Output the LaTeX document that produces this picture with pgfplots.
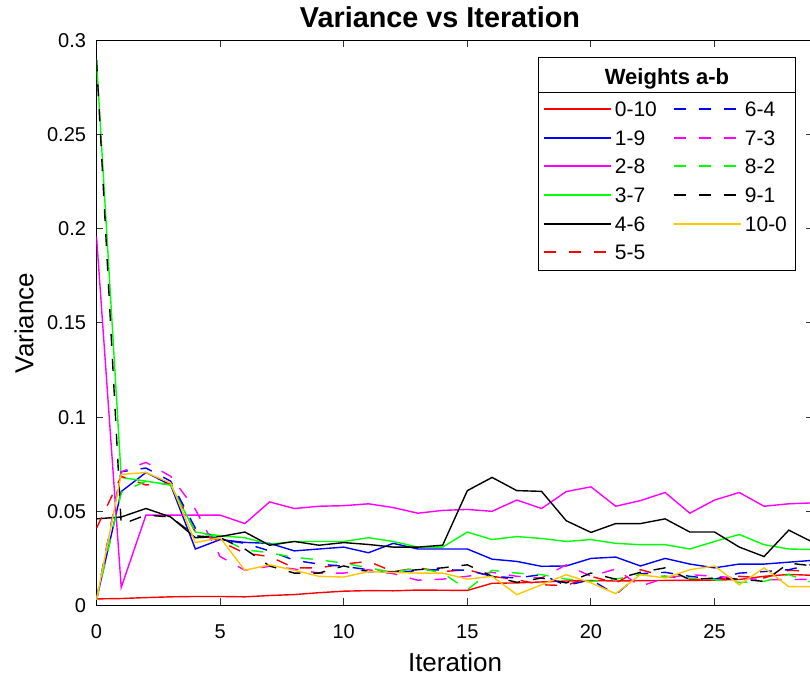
\documentclass[border=0pt]{standalone}
\usepackage{fontspec}
\setmainfont{Liberation Sans}
\usepackage{pgfplots}
\pgfplotsset{compat=1.18}
\usetikzlibrary{calc}

\definecolor{mred}{rgb}{1,0,0}
\definecolor{mblue}{rgb}{0,0,1}
\definecolor{mmag}{rgb}{1,0,1}
\definecolor{mgreen}{rgb}{0,1,0}
\definecolor{myel}{RGB}{255,198,0}

\tikzset{mdash/.style={dash pattern=on 6pt off 6.5pt}}

% one legend row: x of line start, y, line style, label
\newcommand{\legrow}[4]{%
  \draw[#3, line width=1pt] (#1,#2) -- ++(33.5pt,0pt);
  \node[anchor=west, inner sep=0pt, font=\fontsize{10.5}{12}\selectfont] at ({#1+35.5pt},#2) {#4};}

\begin{document}
\begin{tikzpicture}
\begin{axis}[
    scale only axis,
    width=358.5pt, height=282.5pt,
    xmin=0, xmax=29, ymin=0, ymax=0.3,
    xtick={0,5,10,15,20,25},
    ytick={0,0.05,0.1,0.15,0.2,0.25,0.3},
    yticklabels={0,0.05,0.1,0.15,0.2,0.25,0.3},
    scaled y ticks=false,
    /pgf/number format/assume math mode=true,
    tick align=inside,
    major tick length=3.5pt,
    every tick/.style={black!80, line width=0.5pt},
    axis line style={line width=0.5pt},
    ticklabel style={font=\fontsize{10}{12}\selectfont},
    xticklabel style={yshift=-6pt},
    yticklabel style={xshift=-1.7pt},
    xlabel={Iteration}, ylabel={Variance},
    label style={font=\fontsize{13}{15}\selectfont},
    xlabel style={at={(axis description cs:0.5,-0.1168)}, anchor=base},
    ylabel style={at={(axis description cs:-0.0879,0.5)}, anchor=base},
    every axis plot/.append style={line width=0.7pt},
]
% 0-10
\addplot[mred] coordinates {(0,0.0035)(1,0.0037)(2,0.0042)(3,0.0046)(4,0.0048)(5,0.0048)(6,0.0046)(7,0.0053)(8,0.0058)(9,0.0068)(10,0.0076)(11,0.0079)(12,0.0078)(13,0.0082)(14,0.0081)(15,0.0080)(16,0.0118)(17,0.0120)(18,0.0125)(19,0.0130)(20,0.0133)(21,0.0130)(22,0.0132)(23,0.0133)(24,0.0133)(25,0.0135)(26,0.0138)(27,0.0155)(28,0.0165)(29,0.0160)};
% 1-9
\addplot[mblue] coordinates {(0,0.003)(1,0.0605)(2,0.0706)(3,0.064)(4,0.030)(5,0.035)(6,0.0335)(7,0.033)(8,0.029)(9,0.030)(10,0.031)(11,0.028)(12,0.033)(13,0.030)(14,0.030)(15,0.030)(16,0.0246)(17,0.0234)(18,0.0208)(19,0.021)(20,0.025)(21,0.0257)(22,0.021)(23,0.025)(24,0.022)(25,0.020)(26,0.022)(27,0.022)(28,0.023)(29,0.024)};
% 2-8
\addplot[mmag] coordinates {(0,0.196)(1,0.0096)(2,0.048)(3,0.048)(4,0.048)(5,0.048)(6,0.0435)(7,0.055)(8,0.0515)(9,0.0527)(10,0.053)(11,0.054)(12,0.052)(13,0.049)(14,0.0505)(15,0.051)(16,0.050)(17,0.056)(18,0.0515)(19,0.0605)(20,0.063)(21,0.0527)(22,0.0557)(23,0.060)(24,0.049)(25,0.056)(26,0.060)(27,0.0527)(28,0.054)(29,0.0545)};
% 3-7
\addplot[mgreen] coordinates {(0,0.290)(1,0.068)(2,0.066)(3,0.064)(4,0.039)(5,0.037)(6,0.036)(7,0.0325)(8,0.034)(9,0.034)(10,0.034)(11,0.036)(12,0.034)(13,0.031)(14,0.031)(15,0.039)(16,0.035)(17,0.0366)(18,0.0356)(19,0.034)(20,0.035)(21,0.033)(22,0.0323)(23,0.0323)(24,0.030)(25,0.034)(26,0.0377)(27,0.0323)(28,0.030)(29,0.0297)};
% 4-6
\addplot[black] coordinates {(0,0.046)(1,0.047)(2,0.0515)(3,0.047)(4,0.036)(5,0.0366)(6,0.039)(7,0.032)(8,0.034)(9,0.032)(10,0.0334)(11,0.0324)(12,0.031)(13,0.031)(14,0.032)(15,0.061)(16,0.068)(17,0.061)(18,0.0606)(19,0.045)(20,0.0388)(21,0.0435)(22,0.0435)(23,0.046)(24,0.039)(25,0.039)(26,0.031)(27,0.026)(28,0.040)(29,0.0334)};
% 5-5
\addplot[mred, mdash] coordinates {(0,0.041)(1,0.0686)(2,0.064)(3,0.065)(4,0.039)(5,0.034)(6,0.0278)(7,0.026)(8,0.020)(9,0.020)(10,0.022)(11,0.0234)(12,0.018)(13,0.020)(14,0.018)(15,0.019)(16,0.0155)(17,0.0137)(18,0.011)(19,0.0106)(20,0.0155)(21,0.012)(22,0.019)(23,0.0155)(24,0.014)(25,0.0137)(26,0.0155)(27,0.0146)(28,0.0187)(29,0.018)};
% 6-4
\addplot[mblue, mdash] coordinates {(0,0.003)(1,0.071)(2,0.073)(3,0.066)(4,0.041)(5,0.035)(6,0.033)(7,0.029)(8,0.024)(9,0.022)(10,0.0208)(11,0.019)(12,0.017)(13,0.0187)(14,0.019)(15,0.0187)(16,0.0155)(17,0.0146)(18,0.0164)(19,0.0106)(20,0.0137)(21,0.0058)(22,0.0169)(23,0.0176)(24,0.0155)(25,0.014)(26,0.0172)(27,0.018)(28,0.019)(29,0.022)};
% 7-3
\addplot[mmag, mdash] coordinates {(0,0.003)(1,0.071)(2,0.076)(3,0.0686)(4,0.051)(5,0.026)(6,0.0187)(7,0.0208)(8,0.0194)(9,0.0172)(10,0.0172)(11,0.019)(12,0.0169)(13,0.0134)(14,0.014)(15,0.0155)(16,0.0176)(17,0.0155)(18,0.0146)(19,0.0216)(20,0.0155)(21,0.0194)(22,0.0102)(23,0.0146)(24,0.0164)(25,0.0155)(26,0.0146)(27,0.0137)(28,0.0137)(29,0.014)};
% 8-2
\addplot[mgreen, mdash] coordinates {(0,0.003)(1,0.060)(2,0.066)(3,0.064)(4,0.039)(5,0.036)(6,0.0296)(7,0.028)(8,0.0255)(9,0.0243)(10,0.0225)(11,0.020)(12,0.0176)(13,0.020)(14,0.0172)(15,0.0084)(16,0.0187)(17,0.0172)(18,0.0164)(19,0.014)(20,0.0128)(21,0.014)(22,0.0164)(23,0.0155)(24,0.0146)(25,0.0137)(26,0.0123)(27,0.0128)(28,0.0164)(29,0.012)};
% 9-1
\addplot[black, mdash] coordinates {(0,0.290)(1,0.043)(2,0.048)(3,0.047)(4,0.037)(5,0.036)(6,0.030)(7,0.021)(8,0.0172)(9,0.0172)(10,0.021)(11,0.018)(12,0.018)(13,0.019)(14,0.020)(15,0.0216)(16,0.0155)(17,0.0123)(18,0.0146)(19,0.012)(20,0.0172)(21,0.014)(22,0.0176)(23,0.020)(24,0.0137)(25,0.0146)(26,0.014)(27,0.0128)(28,0.0225)(29,0.021)};
% 10-0
\addplot[myel] coordinates {(0,0.003)(1,0.0696)(2,0.0706)(3,0.065)(4,0.0334)(5,0.036)(6,0.0187)(7,0.0216)(8,0.0187)(9,0.0155)(10,0.0151)(11,0.018)(12,0.0176)(13,0.0172)(14,0.0172)(15,0.014)(16,0.0155)(17,0.0058)(18,0.011)(19,0.0164)(20,0.012)(21,0.0063)(22,0.0164)(23,0.0146)(24,0.019)(25,0.021)(26,0.011)(27,0.020)(28,0.010)(29,0.010)};
\end{axis}

% legend box with its title, placed from the axis' top right corner
\begin{scope}[shift={(current axis.north east)}]
  \filldraw[fill=white, draw=black, line width=0.5pt] (-137.5pt,-8.5pt) rectangle (-9pt,-115pt);
  \draw[line width=0.5pt] (-137.5pt,-26pt) -- (-9pt,-26pt);
  \node[font=\bfseries\fontsize{11}{13}\selectfont, anchor=base, inner sep=0pt] at (-73.25pt,-22pt) {Weights a-b};
  \legrow{-135pt}{-34.5pt}{mred}{0-10}
  \legrow{-135pt}{-49pt}{mblue}{1-9}
  \legrow{-135pt}{-63pt}{mmag}{2-8}
  \legrow{-135pt}{-77.5pt}{mgreen}{3-7}
  \legrow{-135pt}{-92pt}{black}{4-6}
  \legrow{-135pt}{-106pt}{mred, mdash}{5-5}
  \legrow{-70pt}{-34.5pt}{mblue, mdash}{6-4}
  \legrow{-70pt}{-49pt}{mmag, mdash}{7-3}
  \legrow{-70pt}{-63pt}{mgreen, mdash}{8-2}
  \legrow{-70pt}{-77.5pt}{black, mdash}{9-1}
  \legrow{-70pt}{-92pt}{myel}{10-0}
\end{scope}

\node[font=\bfseries\fontsize{14.4}{16}\selectfont, anchor=base, inner sep=0pt] at ($(current axis.north)+(-7.5pt,6.5pt)$) {Variance vs Iteration};

% frame as in the reference, whose right edge cuts through the axis' last column
\pgfresetboundingbox
\path[use as bounding box] ($(current axis.south west)+(-48.25pt,-37.25pt)$) rectangle ($(current axis.north west)+(356.75pt,20.25pt)$);
\end{tikzpicture}
\end{document}
